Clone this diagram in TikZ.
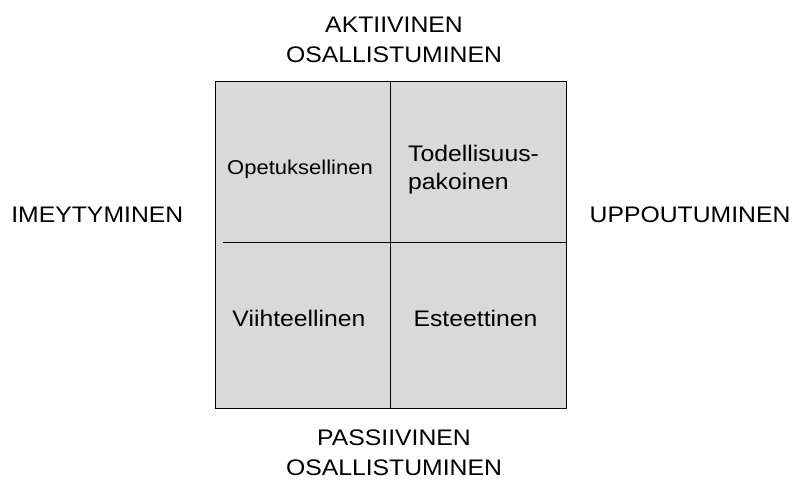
\documentclass[tikz,border=0pt]{standalone}
\usepackage{fontspec}
\setmainfont[FakeStretch=1.1]{Liberation Sans}
\definecolor{cellgray}{RGB}{217,217,217}
\begin{document}
\begin{tikzpicture}[x=1pt,y=1pt,
  axislabel/.style={inner sep=0pt,align=center,font=\fontsize{22.5}{30}\selectfont},
  celltext/.style={inner sep=0pt,font=\fontsize{22.5}{28.5}\selectfont},
  gridline/.style={draw=black,line width=0.9pt}]
\useasboundingbox (0,0) rectangle (794,479);
% box
\node[draw=black,fill=cellgray,line width=0.9pt,minimum width=351pt,minimum height=327pt,inner sep=0pt,anchor=south west] (box) at (215,70) {};
\coordinate (vtop) at (390,397);
\coordinate (vbot) at (390,70);
\coordinate (hleft) at (223,237);
\coordinate (hright) at (566,237);
\draw[gridline] (vtop) -- (vbot);
\draw[gridline] (hleft) -- (hright);
% cell texts
\node[celltext,anchor=base,font=\fontsize{20}{24}\selectfont] (opetus) at (300,304) {Opetuksellinen};
\node[celltext,anchor=base west,align=left] (todell) at (408,289) {Todellisuus-\\pakoinen};
\node[celltext,anchor=base] (viihde) at (299,152.3) {Viihteellinen};
\node[celltext,anchor=base] (esteet) at (475.5,152.3) {Esteettinen};
% axis labels
\node[axislabel,anchor=base] (aktiivinen) at (394,416) {AKTIIVINEN\\OSALLISTUMINEN};
\node[axislabel,anchor=base] (passiivinen) at (394,3.5) {PASSIIVINEN\\OSALLISTUMINEN};
\node[axislabel,anchor=base] (imey) at (97.3,256) {IMEYTYMINEN};
\node[axislabel,anchor=base] (uppou) at (690,256) {UPPOUTUMINEN};
\end{tikzpicture}
\end{document}
